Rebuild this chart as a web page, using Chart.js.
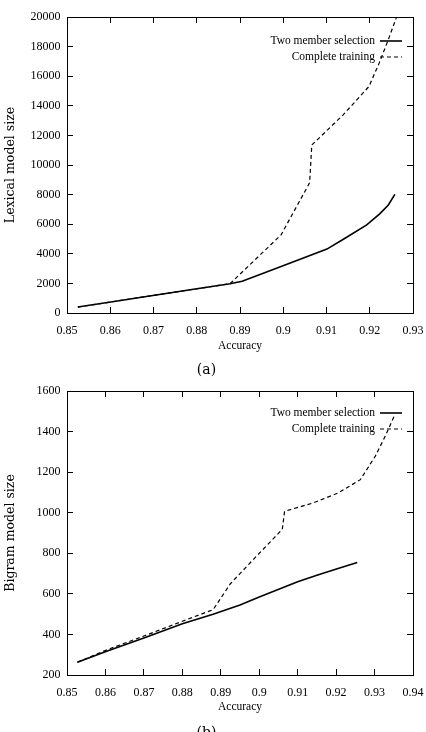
<script src="https://cdn.jsdelivr.net/npm/chart.js@4.4.1/dist/chart.umd.min.js"></script>

<style>
  body { margin: 0; background: #fff; overflow: hidden; }
  canvas { display: block; }
</style>

<canvas id="lexical-chart" width="426" height="381"></canvas>
<canvas id="bigram-chart" width="426" height="363"></canvas>

<script>
// ---- data ----
var seriesNames = ["Two member selection", "Complete training"];

// (a) lexical model size vs accuracy
var lexTwoAcc   = [0.8525, 0.8605, 0.8695, 0.8785, 0.8877, 0.8905, 0.8995, 0.9101, 0.9140, 0.9193, 0.9223, 0.9243, 0.9258];
var lexTwoSize  = [400, 760, 1170, 1570, 1980, 2150, 3150, 4320, 5000, 5950, 6700, 7300, 8020];
var lexFullAcc  = [0.8525, 0.8605, 0.8695, 0.8785, 0.8877, 0.8995, 0.9061, 0.9066, 0.9138, 0.9198, 0.9222, 0.9242, 0.9262];
var lexFullSize = [400, 760, 1170, 1570, 1980, 5280, 8800, 11350, 13370, 15300, 16900, 18400, 20000];
var lexXTicks = ["0.85", "0.86", "0.87", "0.88", "0.89", "0.9", "0.91", "0.92", "0.93"];
var lexYTicks = ["0", "2000", "4000", "6000", "8000", "10000", "12000", "14000", "16000", "18000", "20000"];

// (b) bigram model size vs accuracy
var bigTwoAcc   = [0.8527, 0.8605, 0.8700, 0.8800, 0.8880, 0.8950, 0.9000, 0.9100, 0.9150, 0.9205, 0.9255];
var bigTwoSize  = [263, 318, 382, 453, 500, 545, 585, 660, 692, 725, 755];
var bigFullAcc  = [0.8527, 0.8605, 0.8700, 0.8800, 0.8880, 0.8925, 0.8985, 0.9060, 0.9066, 0.9140, 0.9205, 0.9263, 0.9302, 0.9328, 0.9352];
var bigFullSize = [263, 325, 392, 465, 522, 650, 770, 918, 1007, 1048, 1097, 1163, 1279, 1378, 1480];
var bigXTicks = ["0.85", "0.86", "0.87", "0.88", "0.89", "0.9", "0.91", "0.92", "0.93", "0.94"];
var bigYTicks = ["200", "400", "600", "800", "1000", "1200", "1400", "1600"];

var ink = "#000";
var tickFont = { family: "'Liberation Serif', serif", size: 12 };

function toPoints(xs, ys) {
  var pts = [];
  for (var i = 0; i < xs.length; i++) pts.push({ x: xs[i], y: ys[i] });
  return pts;
}

// gnuplot style key: right aligned text, line sample to its right, inside the plot
var insideKey = {
  id: "insideKey",
  afterDraw: function (chart) {
    var area = chart.chartArea, ctx = chart.ctx;
    var o = chart.options.plugins.insideKey;
    ctx.save();
    ctx.font = "11.5px 'Liberation Serif', serif";
    ctx.fillStyle = ink;
    ctx.textAlign = "right";
    ctx.textBaseline = "middle";
    chart.data.datasets.forEach(function (ds, i) {
      var y = area.top + o.top + i * o.gap;
      var x2 = area.right - o.right;
      var x1 = x2 - o.sample;
      ctx.fillText(ds.label, x1 - 5, y);
      ctx.beginPath();
      ctx.setLineDash(ds.borderDash || []);
      ctx.lineWidth = ds.borderWidth;
      ctx.strokeStyle = ds.borderColor;
      ctx.moveTo(x1, y);
      ctx.lineTo(x2, y);
      ctx.stroke();
    });
    ctx.restore();
  }
};

function noEdgePadding(s) {
  s.paddingLeft = 0; s.paddingRight = 0; s.paddingTop = 0; s.paddingBottom = 0;
}

function makeChart(id, cfg) {
  var mirror = {
    display: true, ticks: { display: false },
    grid: { drawOnChartArea: false, tickLength: -6, color: ink, lineWidth: 1 },
    border: { display: true, color: ink, width: 1 }
  };
  return new Chart(document.getElementById(id), {
    type: "line",
    data: {
      datasets: [{
        label: seriesNames[0],
        data: toPoints(cfg.twoAcc, cfg.twoSize),
        borderColor: ink, borderWidth: 1.6, pointRadius: 0, tension: 0, fill: false
      }, {
        label: seriesNames[1],
        data: toPoints(cfg.fullAcc, cfg.fullSize),
        borderColor: ink, borderWidth: 1.2, borderDash: [4, 3], pointRadius: 0, tension: 0, fill: false
      }]
    },
    options: {
      responsive: false,
      animation: false,
      layout: { padding: { top: cfg.padTop, right: 13, left: 0, bottom: 4 } },
      scales: {
        x: {
          type: "linear", position: "bottom",
          min: cfg.xMin, max: cfg.xMax,
          ticks: {
            stepSize: 0.01, padding: 17, color: ink, font: tickFont, maxRotation: 0,
            callback: function (v, i) { return cfg.xTicks[i]; }
          },
          grid: { drawOnChartArea: false, tickLength: -6, color: ink, lineWidth: 1 },
          border: { display: true, color: ink, width: 1 },
          title: {
            display: true, text: "Accuracy", color: ink,
            font: { family: "'Liberation Serif', serif", size: 11.5 },
            padding: { top: cfg.titlePad, bottom: cfg.titlePad }
          },
          afterFit: function (s) { s.height = cfg.xAxisH; noEdgePadding(s); }
        },
        x2: Object.assign({}, mirror, {
          type: "linear", position: "top", min: cfg.xMin, max: cfg.xMax,
          ticks: { display: false, stepSize: 0.01 },
          afterFit: function (s) { s.height = 0; noEdgePadding(s); }
        }),
        y: {
          type: "linear", position: "left",
          min: cfg.yMin, max: cfg.yMax,
          ticks: {
            stepSize: cfg.yStep, padding: 12.5, color: ink, font: tickFont,
            callback: function (v, i) { return cfg.yTicks[i]; }
          },
          grid: { drawOnChartArea: false, tickLength: -6, color: ink, lineWidth: 1 },
          border: { display: true, color: ink, width: 1 },
          title: {
            display: true, text: cfg.yTitle, color: ink,
            font: { family: "'DejaVu Serif', serif", size: 12.5 },
            padding: { top: 3, bottom: 3 }
          },
          afterFit: function (s) { s.width = 67; noEdgePadding(s); }
        },
        y2: Object.assign({}, mirror, {
          type: "linear", position: "right", min: cfg.yMin, max: cfg.yMax,
          ticks: { display: false, stepSize: cfg.yStep },
          afterFit: function (s) { s.width = 0; noEdgePadding(s); }
        })
      },
      plugins: {
        legend: { display: false },
        tooltip: { enabled: false },
        title: {
          display: true, position: "bottom", text: cfg.caption, color: ink,
          font: { family: "'DejaVu Serif', serif", size: 14, weight: "normal", lineHeight: 1 },
          padding: { top: 0, bottom: 0 }
        },
        insideKey: { top: cfg.keyTop, gap: 16, right: 11, sample: 22 }
      }
    },
    plugins: [insideKey]
  });
}

makeChart("lexical-chart", {
  twoAcc: lexTwoAcc, twoSize: lexTwoSize, fullAcc: lexFullAcc, fullSize: lexFullSize,
  xTicks: lexXTicks, yTicks: lexYTicks,
  xMin: 0.85, xMax: 0.93, yMin: 0, yMax: 20000, yStep: 2000,
  yTitle: "Lexical model size", caption: "(a)",
  padTop: 17, xAxisH: 50, titlePad: 10, keyTop: 24
});

makeChart("bigram-chart", {
  twoAcc: bigTwoAcc, twoSize: bigTwoSize, fullAcc: bigFullAcc, fullSize: bigFullSize,
  xTicks: bigXTicks, yTicks: bigYTicks,
  xMin: 0.85, xMax: 0.94, yMin: 200, yMax: 1600, yStep: 200,
  yTitle: "Bigram model size", caption: "(b)",
  padTop: 10, xAxisH: 51, titlePad: 12, keyTop: 22
});
</script>
